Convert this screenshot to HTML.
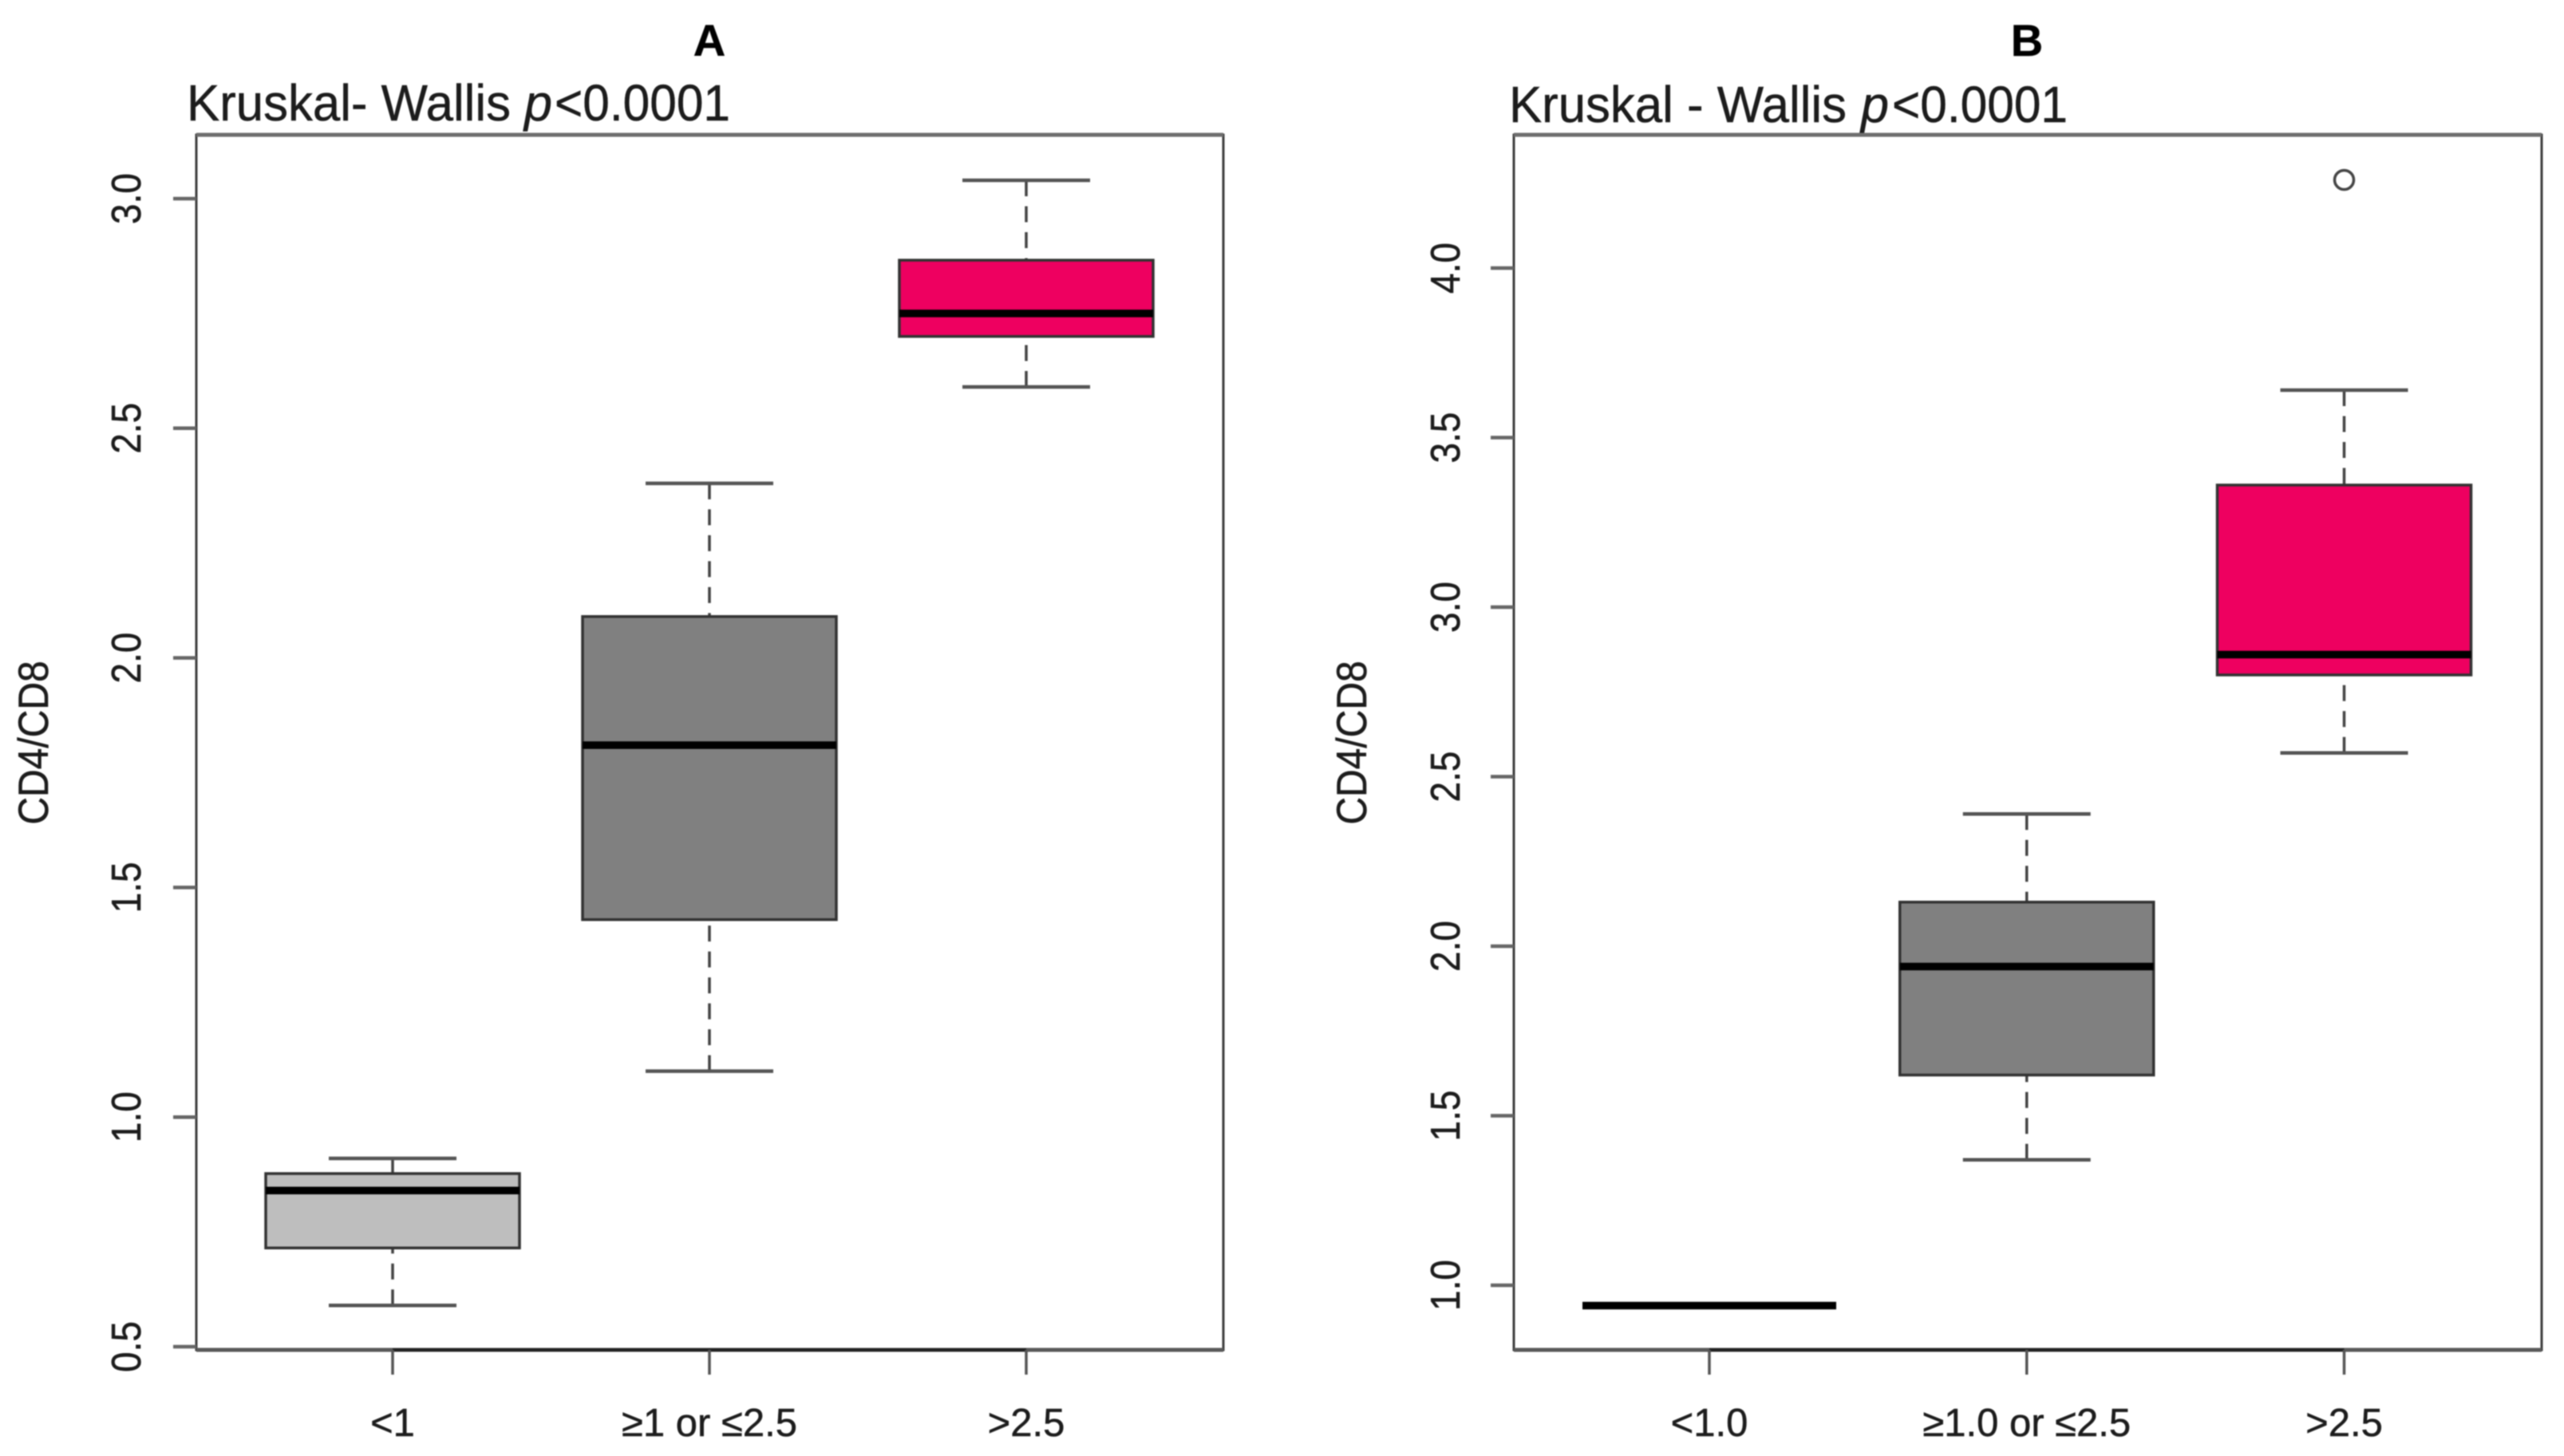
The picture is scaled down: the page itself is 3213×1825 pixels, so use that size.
<!DOCTYPE html>
<html lang="en">
<head>
<meta charset="utf-8">
<title>CD4/CD8 boxplots</title>
<style>
html,body{margin:0;padding:0;background:#fff;}
body{width:3213px;height:1825px;overflow:hidden;}
svg{display:block;filter:blur(0.8px);font-family:"Liberation Sans",Arial,sans-serif;}
text{fill:#1c1c1c;stroke:#1c1c1c;stroke-width:0.5px;}
</style>
</head>
<body>
<svg id="fig" width="3213" height="1825" viewBox="0 0 3213 1825" xmlns="http://www.w3.org/2000/svg">
  <rect x="0" y="0" width="3213" height="1825" fill="#ffffff"/>
  <text x="889" y="70" font-size="56" font-weight="bold" text-anchor="middle" style="fill:#000">A</text>
  <text x="234" y="151" font-size="64" textLength="406" lengthAdjust="spacingAndGlyphs">Kruskal- Wallis</text>
  <text x="657" y="151" font-size="64" font-style="italic" textLength="35" lengthAdjust="spacingAndGlyphs">p</text>
  <text x="695" y="151" font-size="64" textLength="220" lengthAdjust="spacingAndGlyphs">&lt;0.0001</text>
  <text x="2540" y="70" font-size="56" font-weight="bold" text-anchor="middle" style="fill:#000">B</text>
  <text x="1891" y="153" font-size="64" textLength="423" lengthAdjust="spacingAndGlyphs">Kruskal - Wallis</text>
  <text x="2332" y="153" font-size="64" font-style="italic" textLength="35" lengthAdjust="spacingAndGlyphs">p</text>
  <text x="2371" y="153" font-size="64" textLength="220" lengthAdjust="spacingAndGlyphs">&lt;0.0001</text>
</svg>
<script>
// Panel A data
const categoriesA = ['<1', '\u22651 or \u22642.5', '>2.5'];
const lowerWhiskerA = [0.59, 1.10, 2.59];
const q1A = [0.715, 1.43, 2.70];
const medianA = [0.84, 1.81, 2.75];
const q3A = [0.877, 2.09, 2.866];
const upperWhiskerA = [0.91, 2.38, 3.04];
const outliersA = [[], [], []];
const yTicksA = [0.5, 1.0, 1.5, 2.0, 2.5, 3.0];

// Panel B data
const categoriesB = ['<1.0', '\u22651.0 or \u22642.5', '>2.5'];
const lowerWhiskerB = [0.94, 1.37, 2.57];
const q1B = [0.94, 1.62, 2.80];
const medianB = [0.94, 1.94, 2.86];
const q3B = [0.94, 2.13, 3.36];
const upperWhiskerB = [0.94, 2.39, 3.64];
const outliersB = [[], [], [4.26]];
const yTicksB = [1.0, 1.5, 2.0, 2.5, 3.0, 3.5, 4.0];

const boxFills = ['#bebebe', '#808080', '#ee0060'];
const yAxisTitle = 'CD4/CD8';

const SVG_NS = 'http://www.w3.org/2000/svg';
const fig = document.getElementById('fig');

function svgEl(tag, attrs) {
  const node = document.createElementNS(SVG_NS, tag);
  for (const key in attrs) {
    node.setAttribute(key, attrs[key]);
  }
  return node;
}

function drawPanel(p, cats, low, q1, med, q3, up, outliers, ticks) {
  const y = v => p.y0 + (p.v0 - v) * p.pxPerUnit;
  const x = i => p.x0 + i * p.step;
  const HALF_BOX = 159;
  const HALF_CAP = 80;
  let el;

  const group = svgEl('g', {});
  
  
  fig.appendChild(group);

  el = svgEl('rect', { x: p.left, y: p.top, width: p.right - p.left, height: p.bottom - p.top, fill: 'none', stroke: '#3c3c3c', 'stroke-width': 3 });
  
  
  group.appendChild(el);

  el = svgEl('line', { x1: p.left, x2: p.right, y1: p.top, y2: p.top, stroke: '#6e6e6e', 'stroke-width': 5 });
  
  
  group.appendChild(el);

  el = svgEl('line', { x1: p.left, x2: p.right, y1: p.bottom, y2: p.bottom, stroke: '#5a5a5a', 'stroke-width': 5 });
  
  
  group.appendChild(el);

  el = svgEl('line', { x1: x(0), x2: x(cats.length - 1), y1: p.bottom, y2: p.bottom, stroke: '#222', 'stroke-width': 4 });
  
  
  group.appendChild(el);

  ticks.forEach(t => {
    let mark = svgEl('line', { x1: p.left - 29, x2: p.left, y1: y(t), y2: y(t), stroke: '#666', 'stroke-width': 4.5 });
    
    
    group.appendChild(mark);

    let label = svgEl('text', { transform: 'translate(' + p.yLabelX + ',' + y(t) + ') rotate(-90) scale(1,1.12)', 'font-size': 46, 'text-anchor': 'middle' });
    label.textContent = t.toFixed(1);
    
    
    group.appendChild(label);
  });

  el = svgEl('text', { transform: 'translate(' + p.yTitleX + ',931) rotate(-90) scale(1,1.1)', 'font-size': 48, 'text-anchor': 'middle' });
  el.textContent = yAxisTitle;
  
  
  group.appendChild(el);

  cats.forEach((cat, i) => {
    const cx = x(i);

    let tick = svgEl('line', { x1: cx, x2: cx, y1: p.bottom, y2: 1723, stroke: '#555', 'stroke-width': 3.5 });
    
    
    group.appendChild(tick);

    let label = svgEl('text', { x: cx, y: 1800, 'font-size': 49, 'text-anchor': 'middle' });
    label.textContent = cat;
    
    
    group.appendChild(label);

    if (up[i] > q3[i]) {
      let upper = svgEl('line', { x1: cx, x2: cx, y1: y(up[i]), y2: y(q3[i]), stroke: '#444', 'stroke-width': 3.5, 'stroke-dasharray': '20 12.5' });
      
      
      group.appendChild(upper);

      let upperCap = svgEl('line', { x1: cx - HALF_CAP, x2: cx + HALF_CAP, y1: y(up[i]), y2: y(up[i]), stroke: '#555', 'stroke-width': 4.5 });
      
      
      group.appendChild(upperCap);
    }

    if (low[i] < q1[i]) {
      let lower = svgEl('line', { x1: cx, x2: cx, y1: y(low[i]), y2: y(q1[i]), stroke: '#444', 'stroke-width': 3.5, 'stroke-dasharray': '20 12.5' });
      
      
      group.appendChild(lower);

      let lowerCap = svgEl('line', { x1: cx - HALF_CAP, x2: cx + HALF_CAP, y1: y(low[i]), y2: y(low[i]), stroke: '#555', 'stroke-width': 4.5 });
      
      
      group.appendChild(lowerCap);
    }

    if (q3[i] > q1[i]) {
      let box = svgEl('rect', { x: cx - HALF_BOX, y: y(q3[i]), width: 2 * HALF_BOX, height: y(q1[i]) - y(q3[i]), fill: boxFills[i], stroke: '#333', 'stroke-width': 3.5 });
      
      
      group.appendChild(box);
    }

    let median = svgEl('line', { x1: cx - HALF_BOX, x2: cx + HALF_BOX, y1: y(med[i]), y2: y(med[i]), stroke: '#000', 'stroke-width': 9.5 });
    
    
    group.appendChild(median);

    outliers[i].forEach(v => {
      let dot = svgEl('circle', { cx: cx, cy: y(v), r: 12, fill: 'none', stroke: '#444', 'stroke-width': 3.5 });
      
      
      group.appendChild(dot);
    });
  });
}

drawPanel(
  { id: 'panel-a', left: 246, right: 1533, top: 169, bottom: 1692, x0: 492, step: 397, v0: 3.0, y0: 249, pxPerUnit: 575.6, yLabelX: 176, yTitleX: 60 },
  categoriesA, lowerWhiskerA, q1A, medianA, q3A, upperWhiskerA, outliersA, yTicksA
);
drawPanel(
  { id: 'panel-b', left: 1897, right: 3185, top: 169, bottom: 1692, x0: 2142, step: 397.75, v0: 4.0, y0: 336, pxPerUnit: 425, yLabelX: 1829, yTitleX: 1712 },
  categoriesB, lowerWhiskerB, q1B, medianB, q3B, upperWhiskerB, outliersB, yTicksB
);
</script>
</body>
</html>
